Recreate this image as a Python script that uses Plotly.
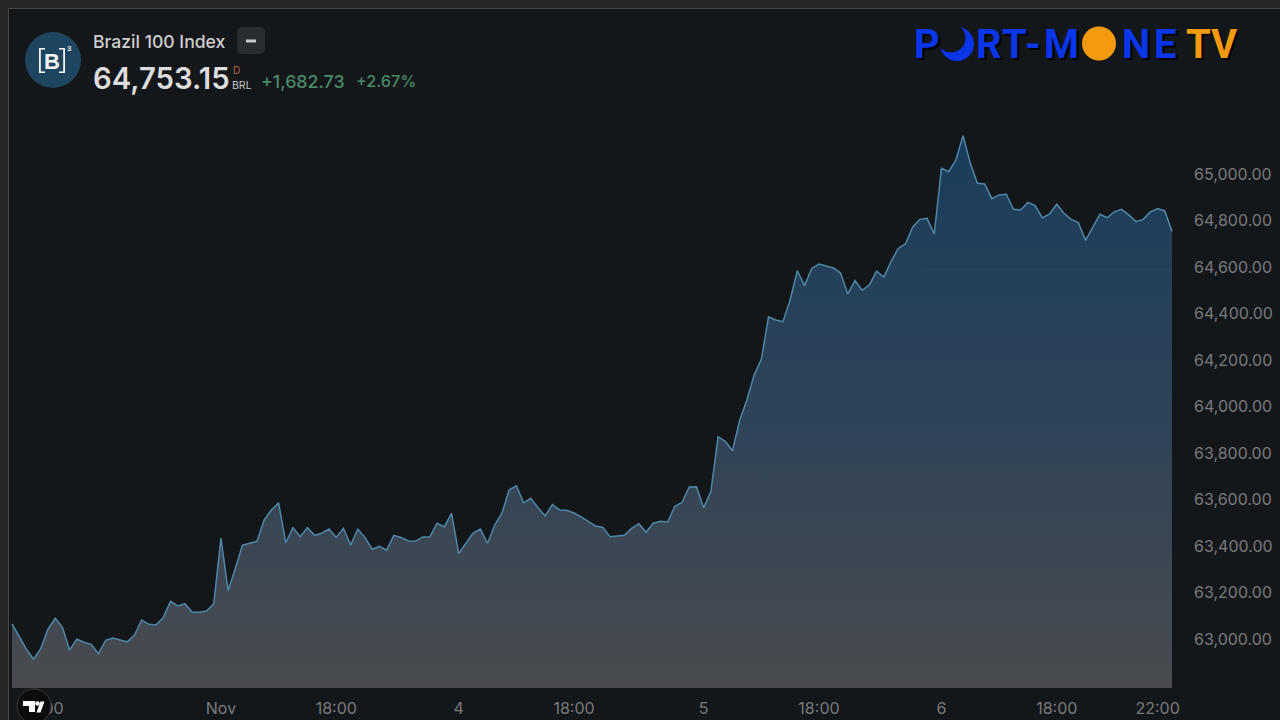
import plotly.graph_objects as go

VALUES = [
 63065,63010,62956,62913,62960,63043,63089,63050,62953,62999,
 62986,62977,62937,62994,63004,62996,62988,63017,63082,63063,
 63060,63093,63162,63142,63152,63115,63115,63120,63151,63433,
 63209,63304,63404,63412,63420,63512,63555,63586,63414,63479,
 63440,63479,63446,63455,63473,63437,63476,63404,63473,63436,
 63386,63399,63382,63446,63437,63422,63420,63439,63439,63498,
 63482,63541,63367,63412,63456,63473,63412,63490,63541,63641,
 63659,63586,63605,63565,63529,63578,63555,63554,63542,63525,
 63505,63486,63480,63440,63443,63446,63476,63496,63459,63498,
 63506,63503,63571,63588,63654,63655,63565,63634,63870,63850,
 63810,63942,64028,64135,64203,64386,64372,64365,64458,64584,
 64520,64594,64613,64604,64596,64574,64484,64541,64500,64523,
 64582,64557,64623,64680,64699,64771,64805,64809,64742,65025,
 65010,65060,65165,65046,64960,64957,64894,64910,64913,64848,
 64845,64878,64864,64811,64828,64870,64831,64805,64791,64715,
 64771,64827,64812,64837,64848,64824,64795,64805,64837,64851,
 64841,64753.15,
]
INDEX = list(range(len(VALUES)))
BASE = [62789.3] * len(VALUES)
TICK_INDEX = [4.3, 29, 45, 62, 78, 96, 112, 129, 145, 159]
TICK_LABELS = ["18:00", "Nov", "18:00", "4", "18:00", "5", "18:00", "6", "18:00", "22:00"]
Y_TICKS = list(range(63000, 65001, 200))

W, H = 1280, 720
BG = "#14171a"
FONT = "Inter"
STEP = 7.205


def px(x):
    return x / W


def py(y):
    return 1 - y / H


def circle(cx, cy, r, fill, line=None, layer="above"):
    return dict(type="circle", xref="paper", yref="paper", layer=layer,
                x0=px(cx - r), x1=px(cx + r), y0=py(cy + r), y1=py(cy - r),
                fillcolor=fill, line=dict(color=line or fill, width=1 if line else 0))


def rect(x0, y0, x1, y1, fill, layer="above"):
    return dict(type="rect", xref="paper", yref="paper", layer=layer,
                x0=px(x0), x1=px(x1), y0=py(y1), y1=py(y0),
                fillcolor=fill, line=dict(width=0))


def poly(points, fill):
    d = "M " + " L ".join(f"{px(x):.5f},{py(y):.5f}" for x, y in points) + " Z"
    return dict(type="path", xref="paper", yref="paper", path=d, fillcolor=fill, line=dict(width=0))


def text(x, y, s, size, color, weight=400, family=FONT, anchor="left", shadow=None):
    font = dict(size=size, color=color, family=family, weight=weight)
    if shadow:
        font["shadow"] = shadow
    return dict(xref="paper", yref="paper", x=px(x), y=py(y), text=s, showarrow=False,
                xanchor=anchor, yanchor="middle", font=font, borderpad=0, borderwidth=0)


fig = go.Figure()
fig.add_trace(go.Scatter(x=INDEX, y=BASE, mode="lines", line=dict(width=0), hoverinfo="skip", showlegend=False))
fig.add_trace(go.Scatter(
    x=INDEX, y=VALUES, mode="lines", fill="tonexty",
    fillgradient=dict(type="vertical", start=62789.3, stop=65165,
                      colorscale=[[0, "#494b4f"], [0.5, "#2e4358"], [1, "#1a3d5c"]]),
    line=dict(color="#4f87a8", width=1.5), hoverinfo="skip", showlegend=False))

WHITE = "#f2f2f2"
shapes = [
    rect(0, 0, 1280, 8, "#262626"),
    rect(0, 8, 1280, 9, "#474747"),
    rect(0, 0, 8, 720, "#262626"),
    rect(8, 8, 9, 720, "#474747"),
    # company badge
    circle(53, 60, 28, "#1d4560"),
    rect(39, 48, 40.8, 73, WHITE), rect(39, 48, 45, 49.6, WHITE), rect(39, 71.4, 45, 73, WHITE),
    rect(63.2, 48, 65, 73, WHITE), rect(59, 48, 65, 49.6, WHITE), rect(59, 71.4, 65, 73, WHITE),
    # collapse button
    dict(type="path", xref="paper", yref="paper", fillcolor="#2a2d30", line=dict(width=0),
         path=" ".join([
             f"M {px(243):.5f},{py(27):.5f}", f"L {px(259):.5f},{py(27):.5f}",
             f"Q {px(265):.5f},{py(27):.5f} {px(265):.5f},{py(33):.5f}",
             f"L {px(265):.5f},{py(48):.5f}", f"Q {px(265):.5f},{py(54):.5f} {px(259):.5f},{py(54):.5f}",
             f"L {px(243):.5f},{py(54):.5f}", f"Q {px(237):.5f},{py(54):.5f} {px(237):.5f},{py(48):.5f}",
             f"L {px(237):.5f},{py(33):.5f}", f"Q {px(237):.5f},{py(27):.5f} {px(243):.5f},{py(27):.5f} Z"])),
    rect(246, 39.5, 256, 42.5, "#c8c8c8"),
    # Port-Mone logo discs
    circle(957, 44, 17, "#0a35e8"),
    circle(951, 38, 14.5, BG),
    circle(1099, 43.5, 17, "#f59a0c"),
    # TradingView badge
    circle(34, 706, 17, "#0b0c0d", line="#3a3a3a"),
    poly([(23, 701), (35, 701), (35, 712), (29, 712), (29, 706), (23, 706)], "#ffffff"),
    circle(37.5, 703.5, 2.3, "#ffffff"),
    poly([(36.5, 712.5), (40.5, 712.5), (44.5, 701.5), (40.5, 701.5)], "#ffffff"),
    # faint level line
    dict(type="line", xref="paper", yref="paper", x0=px(925), x1=px(1172), y0=py(266), y1=py(266),
         line=dict(color="rgba(20,40,60,0.22)", width=1)),
]

annotations = [
    text(93, 41, "Brazil 100 Index", 17.6, "#cfcfcf", 500),
    text(93, 78, "64,753.15", 29.3, "#dcdcdc", 600),
    text(233, 70, "D", 10, "#b5634f"),
    text(232, 85, "BRL", 10.5, "#c4c4c4"),
    text(261, 81, "+1,682.73", 17.8, "#4a8a68", 500),
    text(356, 81, "+2.67%", 16.2, "#4a8a68", 500),
    text(52, 61, "B", 22, "#f4f4f4", 700, "Liberation Sans", "center"),
    text(69, 49, "3", 8, "#e0e0e0", 700, "Liberation Sans", "center"),
]
LOGO_FAMILY = "Roboto"
SHADOW = "2px 2px 0 #000000"
LOGO_SIZE = 40
LOGO_BLUE = [("P", 927), ("R", 989), ("T", 1014), ("-", 1033), ("M", 1061), ("N", 1136), ("E", 1165)]
LOGO_ORANGE = [("T", 1198), ("V", 1224)]
for ch, cx in LOGO_BLUE:
    annotations.append(text(cx, 44, ch, LOGO_SIZE, "#0a35e8", 700, LOGO_FAMILY, "center", SHADOW))
for ch, cx in LOGO_ORANGE:
    annotations.append(text(cx, 44, ch, LOGO_SIZE, "#f59a0c", 700, LOGO_FAMILY, "center", SHADOW))

fig.update_layout(
    width=W, height=H, autosize=False,
    margin=dict(l=0, r=0, t=0, b=0),
    paper_bgcolor=BG, plot_bgcolor=BG,
    showlegend=False, shapes=shapes, annotations=annotations,
    xaxis=dict(domain=[px(9), px(1185)], range=[(9 - 12) / STEP, (1185 - 12) / STEP],
               tickmode="array", tickvals=TICK_INDEX, ticktext=TICK_LABELS,
               showgrid=False, zeroline=False, showline=False, ticks="",
               tickfont=dict(family=FONT, size=16, color="#7a7a7a"), ticklabelstandoff=9),
    yaxis=dict(domain=[py(688), py(9)], range=[62789.3, 65709.7], side="right",
               tickmode="array", tickvals=Y_TICKS, tickformat=",.2f",
               showgrid=False, zeroline=False, showline=False, ticks="",
               tickfont=dict(family=FONT, size=16, color="#7a7a7a"), ticklabelstandoff=8),
)

fig.write_html("out.html", config=dict(displayModeBar=False),
               post_script="document.body.style.margin='0';document.body.style.overflow='hidden';")
